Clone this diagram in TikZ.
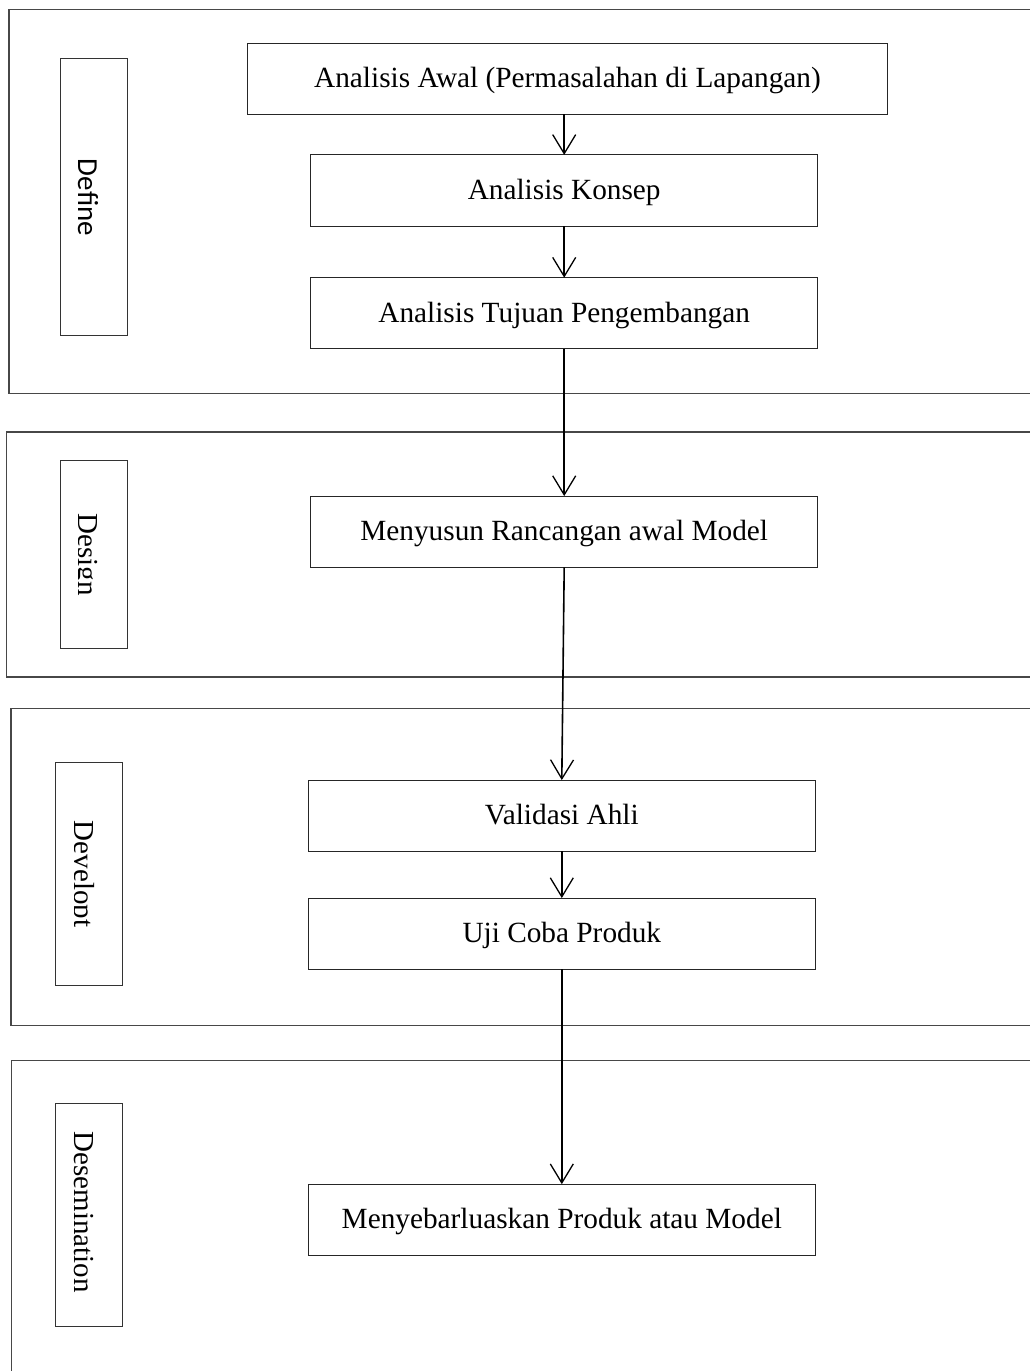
\documentclass[tikz,border=0pt]{standalone}
\usepackage{fontspec}
\setmainfont{Liberation Serif}
\newfontfamily\calfont{Carlito}
\usetikzlibrary{arrows.meta}
\tikzset{
  phase/.style={draw=black!72, line width=1.1pt},
  tag/.style={draw=black!80, line width=1pt, inner sep=0pt, outer sep=0pt},
  stepbox/.style={draw=black!85, line width=1pt, inner sep=0pt, outer sep=0pt, minimum width=507pt, minimum height=71.3pt, text height=23pt, text depth=5pt, font=\fontsize{29.3}{34}\selectfont},
  tagtext/.style={rotate=-90, anchor=base, inner sep=0pt, font=\fontsize{29}{34}\selectfont},
  arr/.style={draw=black, line width=1.6pt, -{Straight Barb[length=19pt, width=23pt, line width=1.3pt]}}
}
\begin{document}
\begin{tikzpicture}[x=1pt, y=-1pt]
\path[use as bounding box, clip] (0,0) rectangle (1030,1371);
\fill[white] (0,0) rectangle (1030,1371);

% phase frames (cut off at the right edge)
\draw[phase] (9,9.3) rectangle (1050,393.3);
\draw[phase] (6.7,432) rectangle (1050,677);
\draw[phase] (11,708.3) rectangle (1050,1025.3);
\draw[phase] (11.5,1060.7) rectangle (1050,1400);

% phase labels
\node[tag, minimum width=67.4pt, minimum height=277pt] (L1) at (94,197.2) {};
\node[tagtext] (T1) at (78,197.5) {\calfont\fontsize{29}{34}\selectfont Define};

\node[tag, minimum width=67.7pt, minimum height=187.6pt] (L2) at (93.85,554.5) {};
\begin{scope}
\clip (78.3,462) rectangle (127,647);
\node[tagtext] (T2) at (78.3,554.5) {Design};
\end{scope}

\node[tag, minimum width=67.4pt, minimum height=223pt] (L3) at (89,873.8) {};
\begin{scope}
\clip (74.5,763) rectangle (122,985);
\node[tagtext] (T3) at (74.5,874) {Developt};
\end{scope}

\node[tag, minimum width=67pt, minimum height=223.4pt] (L4) at (89.2,1215) {};
\node[tagtext] (T4) at (74,1212) {Desemination};

% steps
\node[stepbox, minimum width=639.5pt, minimum height=71pt] (A1) at (567.5,78.8) {Analisis Awal (Permasalahan di Lapangan)};
\node[stepbox] (A2) at (564.2,190.5) {Analisis Konsep};
\node[stepbox] (A3) at (564.2,313.3) {Analisis Tujuan Pengembangan};
\node[stepbox] (M) at (564.2,531.7) {Menyusun Rancangan awal Model};
\node[stepbox] (V) at (561.8,815.7) {Validasi Ahli};
\node[stepbox] (U) at (561.8,933.7) {Uji Coba Produk};
\node[stepbox] (P) at (561.8,1219.8) {Menyebarluaskan Produk atau Model};

% connectors
\draw[arr] (A1.south -| A2.north) -- (A2.north);
\draw[arr] (A2.south) -- (A3.north);
\draw[arr] (A3.south) -- (M.north);
\draw[arr] (M.south) -- (V.north);
\draw[arr] (V.south) -- (U.north);
\draw[arr] (U.south) -- (P.north);
\end{tikzpicture}
\end{document}
